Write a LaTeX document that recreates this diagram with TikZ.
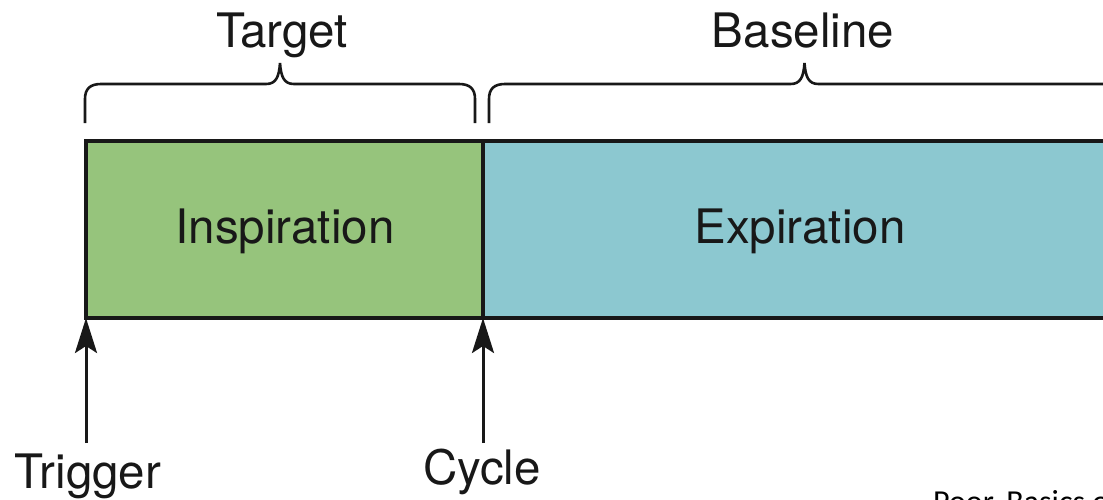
\documentclass[tikz,border=0pt]{standalone}
\usepackage{fontspec}
\setmainfont{TeX Gyre Heros}
\newfontfamily\creditfont{Carlito}
\usetikzlibrary{arrows.meta}

\definecolor{inspgreen}{RGB}{150,196,124}
\definecolor{expblue}{RGB}{140,200,208}
\definecolor{ink}{RGB}{24,24,24}

\tikzset{
  phase/.style={draw=ink, line width=3.5pt, rectangle, inner sep=0pt, outer sep=0pt},
  bigtext/.style={font=\fontsize{47.5pt}{52pt}\selectfont, text=ink, inner sep=0pt, anchor=base},
  credit/.style={font=\creditfont\fontsize{32pt}{36pt}\selectfont, text=black, inner sep=0pt, anchor=base west},
  bracepath/.style={draw=ink, line width=2.6pt},
  eventarrow/.style={draw=ink, line width=3pt, -{Stealth[length=35pt, width=22pt, inset=7pt]}},
}

% curly brace from (#1) to (#2) at height #3, ends dropping to #4, tip at #5
\newcommand{\spanbrace}[5]{%
  \draw[bracepath]
    (#1,#4) -- (#1,99) .. controls (#1,89) and (#1+5,#3) .. (#1+16,#3)
    -- ({(#1+#2)/2-14},#3) .. controls ({(#1+#2)/2-4},#3) and ({(#1+#2)/2-1},#3-7) .. ({(#1+#2)/2},#5)
    .. controls ({(#1+#2)/2+1},#3-7) and ({(#1+#2)/2+4},#3) .. ({(#1+#2)/2+14},#3)
    -- (#2-16,#3) .. controls (#2-5,#3) and (#2,89) .. (#2,99) -- (#2,#4);}

\begin{document}
\begin{tikzpicture}[x=1pt, y=-1pt]
  \useasboundingbox (0,0) rectangle (1103,499);
  \clip (0,0) rectangle (1103,499);

  % the two phases of the breath
  \node[phase, fill=inspgreen, minimum width=397pt, minimum height=177pt] (insp) at (284.5,229.5) {};
  \node[phase, fill=expblue, anchor=north west, minimum width=660pt, minimum height=177pt] (exp) at (insp.north east) {};
  \draw[draw=ink, line width=3.5pt] (insp.north west) rectangle (insp.south east);

  \node[bigtext] (insptext) at (285,243) {Inspiration};
  \node[bigtext] (exptext) at (800,243) {Expiration};

  % braces and their labels
  \spanbrace{85}{475}{84}{123}{63}
  \spanbrace{489}{1120}{84}{123}{63}
  \node[bigtext] (target) at (282,47) {Target};
  \node[bigtext] (baseline) at (803,47) {Baseline};

  % events below the bar
  \node[bigtext] (trigger) at (88,488) {Trigger};
  \node[bigtext] (cycle) at (482,484) {Cycle};
  \coordinate (trigfoot) at (86,443);
  \coordinate (cycfoot) at (483,443);
  \draw[eventarrow] (trigfoot) -- (insp.south west);
  \draw[eventarrow] (cycfoot) -- (insp.south east);

  % source note
  \node[credit] (source) at (933,512) {Poor, Basics of};
\end{tikzpicture}
\end{document}
